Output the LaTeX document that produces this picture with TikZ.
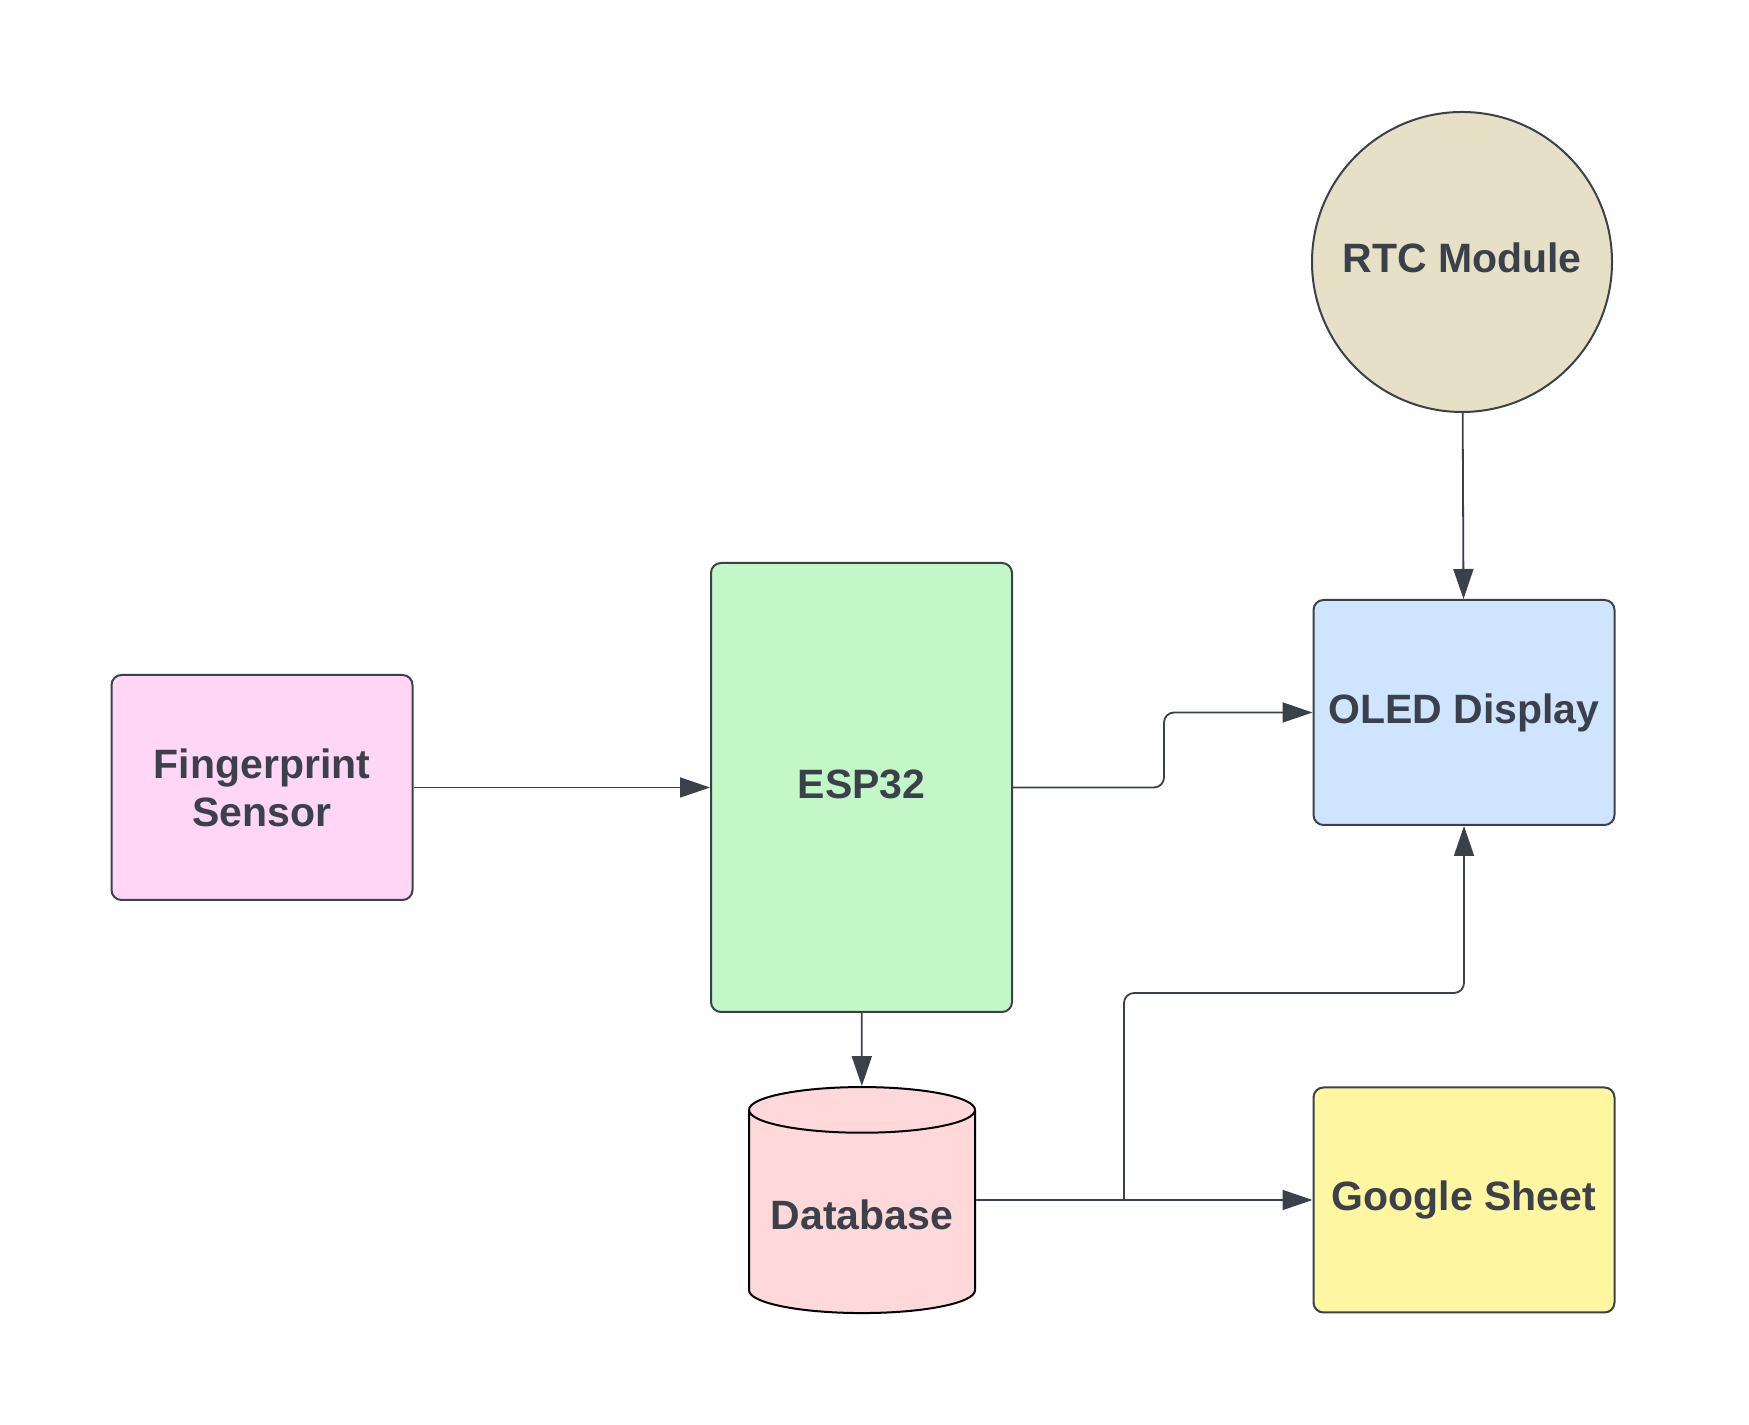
\documentclass[tikz,border=0pt]{standalone}
\usepackage{fontspec}
\setmainfont{Liberation Sans}
\usetikzlibrary{arrows.meta,shapes.geometric}
\definecolor{linec}{HTML}{3A414A}
\definecolor{pinkfill}{HTML}{FFD6F5}
\definecolor{greenfill}{HTML}{C3F7C8}
\definecolor{bluefill}{HTML}{CFE4FF}
\definecolor{yellowfill}{HTML}{FFF6A1}
\definecolor{tanfill}{HTML}{E6E0C6}
\definecolor{redfill}{HTML}{FFD9DA}
\begin{document}
\begin{tikzpicture}[>={Triangle[length=15bp,width=10bp]},line join=round,
  label_text/.style={text=linec,align=center,inner sep=2bp,font=\bfseries\fontsize{20.5bp}{24bp}\selectfont},
  block/.style={label_text,draw=linec,line width=1bp,rounded corners=5bp,minimum width=150.5bp,minimum height=112.5bp},
  link/.style={draw=linec,line width=0.9bp,->}]
\useasboundingbox (0bp,0bp) rectangle (874.5bp,712.5bp);
%%
\node (node_rtc) at (731bp,581.5bp) [label_text,circle,draw=linec,line width=1bp,fill=tanfill,minimum size=150bp,text depth=4.5bp] {RTC Module};
  \node (node_sensor) at (131bp,318.75bp) [block,fill=pinkfill] {Fingerprint\\Sensor};
  \node (node_esp) at (430.75bp,318.75bp) [block,fill=greenfill,minimum height=224.5bp,text depth=3bp] {ESP32};
  \node (node_oled) at (732bp,356.25bp) [block,fill=bluefill] {OLED Display};
  \node (node_sheet) at (732bp,112.5bp) [block,fill=yellowfill] {Google Sheet};
  \node (node_db) at (431bp,105bp) [label_text,cylinder,shape border rotate=90,aspect=0.24,draw=black,line width=1bp,fill=redfill,minimum width=113bp,minimum height=113bp] {Database};
  \coordinate (tap) at (562bp,112.5bp);
%
  \draw [link] (node_sensor) -- (node_esp);
  \draw [link,rounded corners=5bp] (node_esp.east) -- ++(75.5bp,0) |- (node_oled.west);
  \draw [link] (node_rtc) -- (node_oled);
  \draw [link] (node_esp) -- (node_db);
  \draw [link] (node_db.east |- node_sheet) -- (node_sheet.west);
  \draw [link,rounded corners=5bp] (tap) -- ++(0,103.5bp) -| (node_oled.south);
%
\end{tikzpicture}
\end{document}
